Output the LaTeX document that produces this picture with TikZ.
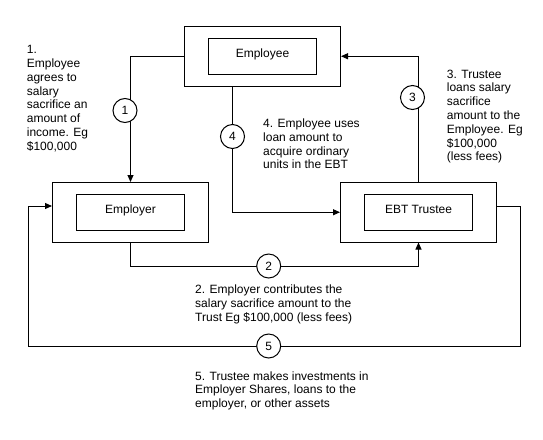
\documentclass[tikz,border=0pt]{standalone}
\usepackage{fontspec}
\setmainfont{Liberation Sans}
\usetikzlibrary{arrows.meta}
\begin{document}
\begin{tikzpicture}[x=1pt,y=-1pt,
  conn/.style={line width=1pt},
  arr/.style={conn,-{Triangle[length=7pt,width=6pt]}},
  outerbox/.style={draw,line width=1pt,minimum width=156pt,minimum height=59.5pt,inner sep=0pt},
  innerbox/.style={draw,line width=1pt,minimum width=108pt,minimum height=36pt,inner sep=0pt,
    text height=8pt,text depth=7pt,font=\fontsize{12}{14}\selectfont},
  num/.style={circle,draw,fill=white,line width=1pt,minimum size=24pt,inner sep=0pt,font=\fontsize{12}{14}\selectfont},
  lbl/.style={anchor=base west,align=left,inner sep=0pt,font=\fontsize{12}{13.8}\selectfont}
]
\useasboundingbox[fill=white] (0,0) rectangle (543,439);

% boxes
\node[outerbox] (emp) at (262.5,56.25) {};
\node[innerbox] (empi) at (262.5,56.5) {Employee};
\node[outerbox] (empr) at (130.5,212.25) {};
\node[innerbox] (empri) at (130.5,212.5) {Employer};
\node[outerbox] (ebt) at (418.5,212.25) {};
\node[innerbox] (ebti) at (418.5,212.5) {EBT Trustee};

% free corner points
\coordinate (c4) at (232.5,100);
\coordinate (r1) at (520.5,206);
\coordinate (r2) at (520.5,346);
\coordinate (l2) at (28.3,346);
\coordinate (l1) at (28.3,206);
\coordinate (b2) at (130.5,266);

% connectors
\draw[arr] (emp.west) -| (empr.north);
\draw[arr] (ebt.north) |- (emp.east);
\draw[arr] (emp.south -| c4) |- (ebt.west);
\draw[arr] (empr.south) -- (b2) -| (ebt.south);
\draw[arr] (ebt.east |- r1) -- (r1) -- (r2) -- (l2) -- (l1) -- (empr.west |- l1);

% numbered circles
\node[num] (n1) at (125,110.5) {1};
\node[num] (n3) at (412.5,97.5) {3};
\node[num] (n4) at (232.5,136.5) {4};
\node[num] (n2) at (268.7,266) {2};
\node[num] (n5) at (268.7,346) {5};

% labels (anchored at the baseline of the last line)
\node[lbl] (t1) at (26.7,150.2) {1.\\Employee\\agrees to\\salary\\sacrifice an\\amount of\\income. Eg\\\$100,000};
\node[lbl] (t3) at (446.7,160.8) {3. Trustee\\loans salary\\sacrifice\\amount to the\\Employee. Eg\\\$100,000\\(less fees)};
\node[lbl] (t4) at (263,168.9) {4. Employee uses\\loan amount to\\acquire ordinary\\units in the EBT};
\node[lbl] (t2) at (195,321.1) {2. Employer contributes the\\salary sacrifice amount to the\\Trust Eg \$100,000 (less fees)};
\node[lbl] (t5) at (195,407.6) {5. Trustee makes investments in\\Employer Shares, loans to the\\employer, or other assets};
\end{tikzpicture}
\end{document}
